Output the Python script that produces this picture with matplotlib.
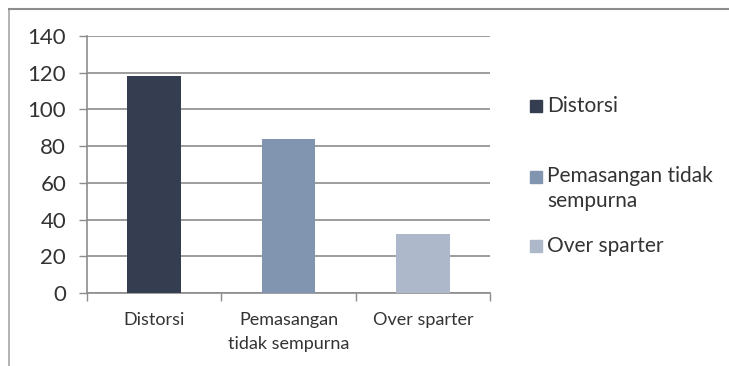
import matplotlib.pyplot as plt
from matplotlib.lines import Line2D
from matplotlib.patches import Rectangle

categories = ["Distorsi", "Pemasangan\ntidak sempurna", "Over sparter"]
legend_labels = ["Distorsi", "Pemasangan tidak\nsempurna", "Over sparter"]
values = [118, 84, 32]
colors = ["#343e50", "#8195b0", "#adb9ca"]
yticks = [0, 20, 40, 60, 80, 100, 120, 140]

W, H = 729, 366
plt.rcParams['font.family'] = ['Lato', 'DejaVu Sans']
fig = plt.figure(figsize=(W / 100, H / 100), dpi=100)
ax = fig.add_axes([87 / W, 1 - 293 / H, (490 - 87) / W, (293 - 36) / H])

gray = "#8c8c8c"
txt = "#333333"
x = list(range(len(categories)))
ax.bar(x, values, width=0.4, color=colors, zorder=3)

ax.set_xlim(-0.5, len(categories) - 0.5)
ax.set_ylim(0, 140)
ax.set_yticks(yticks)
ax.yaxis.grid(True, color=gray, linewidth=1.2, zorder=0)

ax.set_xticks([i - 0.5 for i in range(len(categories) + 1)])
ax.set_xticklabels([])
ax.set_xticks(x, minor=True)
ax.set_xticklabels(categories, minor=True, fontsize=13, color=txt, linespacing=1.55)
ax.tick_params(axis='x', which='major', length=6, color=gray, width=1)
ax.tick_params(axis='x', which='minor', length=0, pad=14)
ax.tick_params(axis='y', length=6, color=gray, width=1, labelsize=16, pad=9, labelcolor=txt)

for s in ["top", "right"]:
    ax.spines[s].set_visible(False)
for s in ["left", "bottom"]:
    ax.spines[s].set_color(gray)
    ax.spines[s].set_linewidth(1.2)

# legend drawn by hand to follow the Excel layout
leg_y = [106, 177, 246]
for lab, c, yy in zip(legend_labels, colors, leg_y):
    fig.patches.append(Rectangle((530 / W, 1 - (yy + 6) / H), 12 / W, 12 / H,
                                 transform=fig.transFigure, color=c))
    if "\n" in lab:
        fig.text(547 / W, 1 - (yy - 11) / H, lab, fontsize=15, color=txt,
                 va="top", linespacing=1.3)
    else:
        fig.text(547 / W, 1 - yy / H, lab, fontsize=15, color=txt, va="center")

# outer chart frame
fig.add_artist(Line2D([8.5 / W, 8.5 / W], [0, 1 - 8.5 / H], color="#a6a6a6", lw=1.2))
fig.add_artist(Line2D([8.5 / W, 1], [1 - 8.5 / H, 1 - 8.5 / H], color="#8c8c8c", lw=1.5))

fig.savefig("out.png", dpi=100)
